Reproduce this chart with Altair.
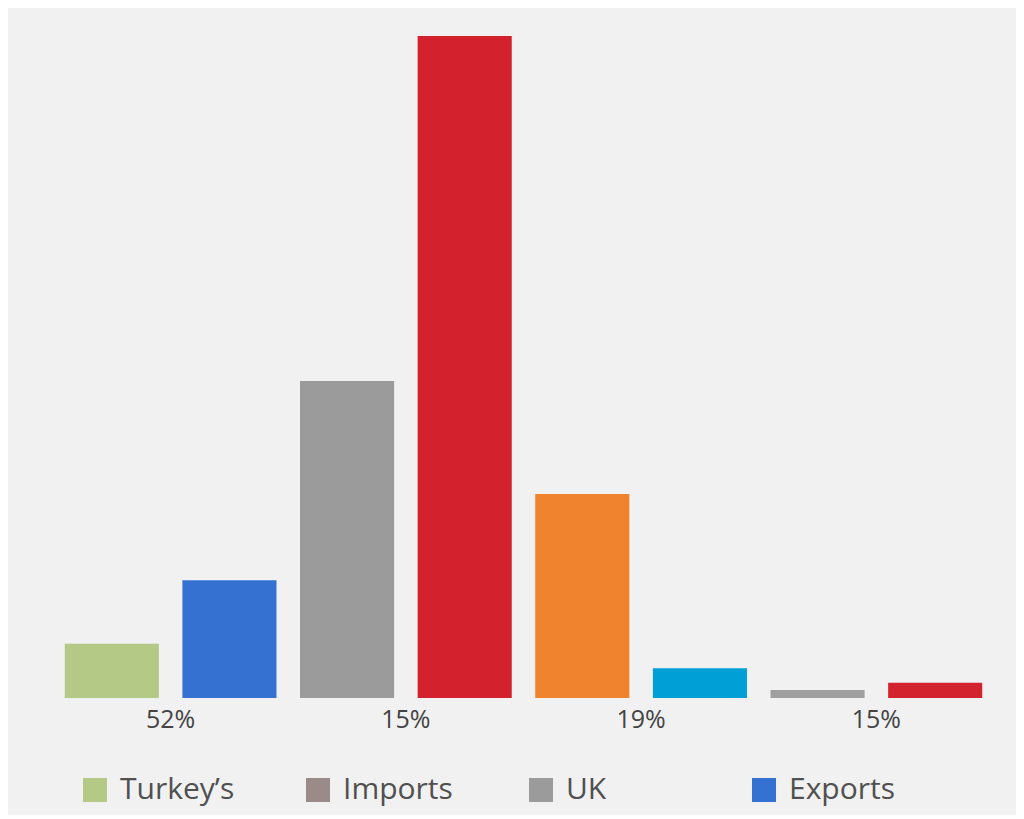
import json
import altair as alt
import pandas as pd

# Bar data (heights relative to tallest bar = 100)
bar_values = [8.2, 17.8, 47.9, 100.0, 30.8, 4.5, 1.2, 2.3]
bar_colors = ["#b5c986", "#3571d0", "#9b9b9b", "#d3222d",
              "#f0832e", "#00a0d6", "#a0a0a0", "#d3232f"]
bar_group = [0, 0, 1, 1, 2, 2, 3, 3]
bar_pos = [0, 1, 0, 1, 0, 1, 0, 1]
group_labels = ["52%", "15%", "19%", "15%"]

legend_names = ["Turkey\u2019s", "Imports", "UK", "Exports"]
legend_colors = ["#b5c986", "#9a8a8a", "#9b9b9b", "#3571d0"]

bars_df = pd.DataFrame({
    "group": bar_group,
    "pos": bar_pos,
    "value": bar_values,
    "color": bar_colors,
})
legend_df = pd.DataFrame({"name": legend_names})

label_expr = json.dumps(group_labels) + "[datum.value]"

bars = alt.Chart(bars_df).mark_bar().encode(
    x=alt.X("group:O", title=None,
            scale=alt.Scale(paddingInner=0, paddingOuter=0),
            axis=alt.Axis(labelExpr=label_expr, labelAngle=0, domain=False,
                          ticks=False, labelFont="Open Sans", labelFontSize=25,
                          labelColor="#444444", labelPadding=9)),
    xOffset=alt.XOffset("pos:O", scale=alt.Scale(paddingInner=0.2, paddingOuter=0.1)),
    y=alt.Y("value:Q", axis=None, scale=alt.Scale(domain=[0, 100], nice=False)),
    color=alt.Color("color:N", scale=None, legend=None),
)

legend_layer = alt.Chart(legend_df).mark_square(opacity=0).encode(
    color=alt.Color(
        "name:N",
        scale=alt.Scale(domain=legend_names, range=legend_colors),
        legend=alt.Legend(
            title=None, orient="none", legendX=27, legendY=739,
            direction="horizontal", columns=4, gridAlign="all",
            columnPadding=68, symbolType="square", symbolSize=576,
            symbolOpacity=1, symbolStrokeWidth=0,
            labelFont="Open Sans", labelFontSize=30, labelColor="#505050",
            labelOffset=10, padding=0,
        ),
    ),
)

chart = alt.layer(bars, legend_layer).resolve_scale(color="independent").properties(
    width=941, height=662,
    padding={"left": 45, "top": 28, "right": 22, "bottom": 10},
    background="#f1f1f1",
).configure_view(stroke=None)

chart.save("out.html", embed_options={"renderer": "svg", "actions": False})
